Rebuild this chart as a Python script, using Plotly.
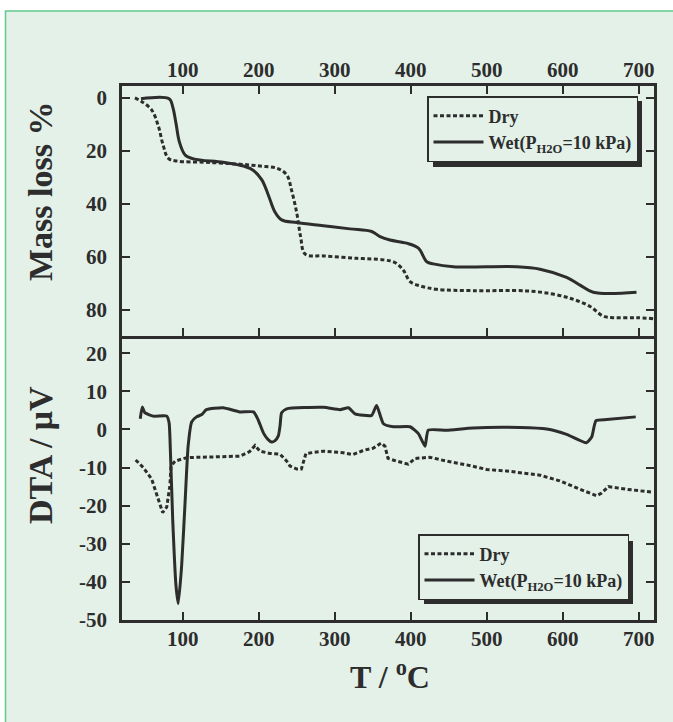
import plotly.graph_objects as go

# ---------------- data ----------------
tg_dry_T = [37, 46, 59, 68, 74, 81, 92, 131, 175, 202, 223.5, 236.7, 243, 250, 255, 261, 285, 329,
            364, 379, 390, 399, 412, 434, 482, 552, 587, 614, 636, 653, 666, 697, 720]
tg_dry_m = [0, 1.4, 4.5, 10.8, 17.7, 22.8, 23.8, 24.3, 25, 25.7, 26.5, 29, 34.7, 43.5, 52.3, 58.9, 59.6, 60.5,
            61.1, 62.1, 64.9, 69.3, 70.9, 72.2, 72.7, 72.8, 74, 76, 78.7, 82.3, 82.9, 82.9, 83.3]

tg_wet_T = [45, 82, 86.7, 91, 95.4, 103, 114, 153, 180, 193, 204, 212.5, 221, 230, 250, 285, 320, 348.5,
            359.5, 372.6, 394.6, 410, 421, 429.6, 456, 539, 570, 605, 622.6, 640, 697]
tg_wet_m = [0.3, 0.3, 3.3, 9.5, 16.5, 21.5, 23, 24.3, 25.7, 27.4, 30.9, 36.6, 42.9, 46, 47, 48.2, 49.4, 50.4,
            52.3, 53.6, 54.8, 56.7, 61.8, 62.6, 63.7, 63.7, 64.6, 67.7, 70.6, 73.3, 73.3]

dta_wet_T = [44, 46.7, 50, 61, 79, 82, 83, 86.7, 91, 94, 98.5, 103, 107, 111.7, 118, 125, 131, 153, 175,
             193, 199, 206, 212, 217, 221, 225.7, 228, 230, 236.7, 285, 307, 318, 326.6, 348.5, 355, 364,
             377, 399, 410, 418.7, 423, 447, 482, 543.7, 578.8, 605, 631, 638, 643.7, 657.8, 696]
dta_wet_d = [2.8, 5.9, 4.4, 3.5, 3.5, 1.7, -1.7, -23.5, -40.9, -45.7, -35.7, -19.1, -4.4, 2.0, 3.3, 3.9, 5.2,
             5.7, 4.6, 4.6, 2.6, -0.9, -2.6, -3.3, -3.0, -1.7, 1.0, 4.4, 5.4, 5.8, 5.2, 5.7, 4.1, 3.7, 6.3,
             1.5, 0.7, 0.7, -1.1, -4.4, -0.2, -0.2, 0.4, 0.5, 0.1, -1.3, -3.5, -2.0, 2.3, 2.6, 3.3]

dta_dry_T = [38, 48, 59, 67.8, 73.5, 78.8, 83, 84.5, 90, 105, 175, 188, 195, 201.6, 214.7, 228, 236.7, 241,
             250, 256, 262, 285, 311, 324, 337.5, 350.7, 361, 366, 370, 381, 396.7, 406, 425, 447, 473.5,
             500, 526, 570, 596, 622.6, 644.6, 651, 660, 684, 719]
dta_dry_d = [-8, -10, -13, -18.3, -21.8, -20.4, -14.8, -9.6, -8.3, -7.4, -7, -5.8, -4.2, -5.7, -6.3, -6.5,
             -8.3, -9.6, -10.4, -10.4, -6.3, -5.7, -6.1, -6.6, -5.5, -4.9, -3.6, -4.4, -7.6, -8.3, -9.1,
             -7.6, -7.3, -8.3, -9.3, -10.5, -10.9, -12, -13.5, -15.7, -17.4, -16.7, -15, -15.7, -16.5]

x_ticks = [100, 200, 300, 400, 500, 600, 700]
tg_ticks = [0, 20, 40, 60, 80]
dta_ticks = [-50, -40, -30, -20, -10, 0, 10, 20]
dta_tick_labels = ["-50", "-40", "-30", "-20", "-10", "0", "10", "20"]

name_dry = "Dry"
name_wet = "Wet(P<sub>H2O</sub>=10 kPa)"

# ---------------- style ----------------
INK = "#2d2d2d"
BG = "#e3f1e8"
FONT = "Liberation Serif"
W, H = 673, 722
ML, MR, MT, MB = 122, 19, 86, 102
PW, PH = W - ML - MR, H - MT - MB
split = 284.3 / PH


def px_x(p):
    return (p - ML) / PW


def px_y(p):
    return (H - MB - p) / PH


dry_line = dict(color=INK, width=3, dash="4px,2.5px")
wet_line = dict(color=INK, width=3)

fig = go.Figure()
fig.add_trace(go.Scatter(x=tg_dry_T, y=tg_dry_m, mode="lines", name=name_dry, line=dry_line,
                         line_shape="spline", xaxis="x", yaxis="y", legend="legend"))
fig.add_trace(go.Scatter(x=tg_wet_T, y=tg_wet_m, mode="lines", name=name_wet, line=wet_line,
                         line_shape="spline", xaxis="x", yaxis="y", legend="legend"))
fig.add_trace(go.Scatter(x=dta_dry_T, y=dta_dry_d, mode="lines", name=name_dry, line=dry_line,
                         xaxis="x2", yaxis="y2", legend="legend2"))
fig.add_trace(go.Scatter(x=dta_wet_T, y=dta_wet_d, mode="lines", name=name_wet, line=wet_line,
                         line_shape="spline", line_smoothing=0.5,
                         xaxis="x2", yaxis="y2", legend="legend2"))

tickfont = dict(family=FONT, size=21, color=INK, weight="bold")
common = dict(showline=True, linecolor=INK, linewidth=2.5, ticks="inside", ticklen=8, tickwidth=1.5,
              tickcolor=INK, showgrid=False, zeroline=False, tickfont=tickfont, automargin=False)

legend_common = dict(bgcolor=BG, bordercolor=INK, borderwidth=1.5, itemwidth=50,
                     font=dict(family=FONT, size=18, color=INK, weight="bold"),
                     tracegroupgap=0, traceorder="normal", xanchor="right")

title_font = dict(family=FONT, size=34, color=INK, weight="bold")

fig.update_layout(
    width=W, height=H,
    margin=dict(l=ML, r=MR, t=MT, b=MB),
    paper_bgcolor="white", plot_bgcolor="rgba(0,0,0,0)",
    showlegend=True,
    xaxis=dict(common, range=[20, 720], domain=[0, 1], anchor="y", side="top", tickvals=x_ticks,
               mirror="ticks", ticklabelstandoff=-2),
    yaxis=dict(common, range=[89.7, -4.5], domain=[split, 1], anchor="x", tickvals=tg_ticks,
               mirror="ticks", ticklabelstandoff=8),
    xaxis2=dict(common, range=[20, 720], domain=[0, 1], anchor="y2", side="bottom", tickvals=x_ticks,
                matches="x", mirror=False, ticklabelstandoff=-2),
    yaxis2=dict(common, range=[-50, 24.6], domain=[0, split], anchor="x2", tickvals=dta_ticks,
                ticktext=dta_tick_labels, mirror="ticks", ticklabelstandoff=8),
    legend=dict(legend_common, x=px_x(638), y=px_y(96), yanchor="top"),
    legend2=dict(legend_common, x=px_x(629), y=px_y(600), yanchor="bottom"),
    shapes=[
        dict(type="rect", xref="paper", yref="paper", layer="below",
             x0=px_x(5.5), x1=px_x(700), y0=px_y(760), y1=px_y(11),
             fillcolor=BG, line=dict(color="#62c98e", width=1.5)),
        dict(type="rect", xref="paper", yref="paper", layer="above",
             x0=px_x(433), x1=px_x(642), y0=px_y(167), y1=px_y(101),
             fillcolor=INK, line=dict(width=0)),
        dict(type="rect", xref="paper", yref="paper", layer="above",
             x0=px_x(424), x1=px_x(633), y0=px_y(604), y1=px_y(541),
             fillcolor=INK, line=dict(width=0)),
    ],
    annotations=[
        dict(text="Mass loss %", xref="paper", yref="paper", x=px_x(40), y=px_y(192), showarrow=False,
             textangle=-90, xanchor="center", yanchor="middle", font=title_font),
        dict(text="DTA / \u03bcV", xref="paper", yref="paper", x=px_x(40), y=px_y(455), showarrow=False,
             textangle=-90, xanchor="center", yanchor="middle", font=title_font),
        dict(text="T / <sup>o</sup>C", xref="paper", yref="paper", x=px_x(390), y=px_y(675), showarrow=False,
             xanchor="center", yanchor="middle", font=dict(title_font, size=32)),
    ],
)

fig.write_html("out.html", config={"displayModeBar": False},
               post_script="document.body.style.margin='0';")
